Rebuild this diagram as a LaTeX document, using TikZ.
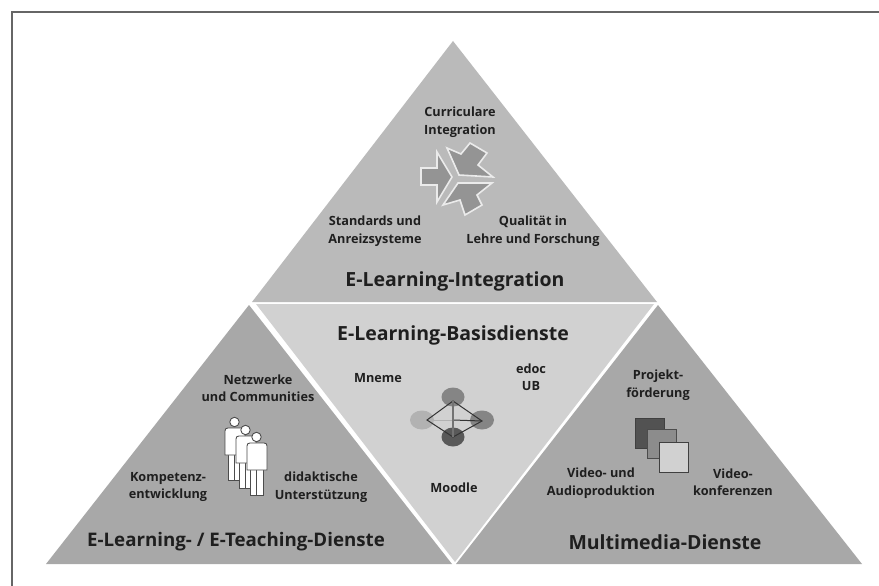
\documentclass[tikz,border=0pt]{standalone}
\usepackage{fontspec}
\setmainfont{Open Sans}
\begin{document}
\begin{tikzpicture}[x=1pt,y=-1pt,
  lbl/.style={font=\fontsize{12.7}{17.5}\selectfont\bfseries,align=center,text=black!88,inner sep=0pt},
  ttl/.style={font=\fontsize{19.5}{22}\selectfont\bfseries,text=black!88,inner sep=0pt},
  arrowshape/.style={draw=black!8,fill=black!42,line width=1.6pt,line join=miter},
  person/.style={fill=white,draw=black!70,line width=.9pt}]
\useasboundingbox (0,0) rectangle (879,586);
\fill[white] (0,0) rectangle (879,586);
\draw[black!60,line width=1.1pt] (879,12) -- (12,12) -- (12,586);
\fill[black!27] (453,41) -- (657,302) -- (252,302) -- cycle;
\fill[black!34] (249,305) -- (452,564) -- (46,564) -- cycle;
\fill[black!34] (658,305) -- (862,564) -- (456,564) -- cycle;
\fill[black!18] (256,304) -- (654,304) -- (455,562) -- cycle;
% arrows
\draw[arrowshape] (421,168) -- (437,168) -- (437,152) -- (452,177) -- (437,202) -- (437,185) -- (421,185) -- cycle;
\draw[arrowshape] (447,148) -- (461,154) -- (470,143) -- (487,153) -- (478,165) -- (493,177) -- (459,175) -- cycle;
\draw[arrowshape] (443,205) -- (460,200) -- (465,215) -- (482,205) -- (477,195) -- (492,183) -- (458,183) -- cycle;
% pyramid
\fill[black!30] (422,420) ellipse (12 and 9.5);
\fill[black!48] (453,397) ellipse (11.5 and 9.5);
\fill[black!48] (482,420) ellipse (12 and 9.5);
\fill[black!65] (453,437) ellipse (11.5 and 9.5);
\draw[black!30,line width=1pt] (427,420) -- (453,420);
\draw[black!80,line width=1pt] (453,420) -- (482,421);
\draw[black!80,line width=1pt] (427,420) -- (453,401) -- (482,421) -- (453,437) -- cycle;
\draw[black!55,line width=1.3pt] (453,401) -- (453,437);
% people
\foreach \dx/\dy in {0/0,11/8,22/15}{
\begin{scope}[shift={(\dx,\dy)}]
\draw[person] (228,450) rectangle (234.5,480);
\draw[person] (234.5,450) rectangle (241,480);
\draw[person] (225,455) -- (225,431) .. controls (225,429) and (226,428) .. (228,428) -- (242,428) .. controls (244,428) and (245,429) .. (245,431) -- (245,455) -- cycle;
\draw[person] (234.5,422) circle (4.7);
\end{scope}}
% squares
\draw[fill=black!68,draw=black!75,line width=.8pt] (635,418) rectangle (664,448);
\draw[fill=black!45,draw=black!70,line width=.8pt] (647,429) rectangle (676,458);
\draw[fill=black!18,draw=black!75,line width=.8pt] (659,442) rectangle (688,472);
% text
\node[lbl] (a1) at (460,122) {Curriculare\\Integration};
\node[lbl] (a2) at (375,231) {Standards und\\Anreizsysteme};
\node[lbl] (a3) at (533,231) {Qualität in\\Lehre und Forschung};
\node[ttl] (t1) at (455,281) {E-Learning-Integration};
\node[ttl] (t2) at (453,335) {E-Learning-Basisdienste};
\node[lbl] (b1) at (378,378) {Mneme};
\node[lbl] (b2) at (531,377) {edoc\\UB};
\node[lbl] (b3) at (454,488) {Moodle};
\node[lbl] (c1) at (258,388) {Netzwerke\\und Communities};
\node[lbl] (c2) at (168,487) {Kompetenz-\\entwicklung};
\node[lbl] (c3) at (321,487) {didaktische\\Unterstützung};
\node[ttl,font=\fontsize{18.7}{22}\selectfont\bfseries] (t3) at (236,542) {E-Learning- / E-Teaching-Dienste};
\node[lbl] (d1) at (658,385) {Projekt-\\förderung};
\node[lbl] (d2) at (601,483) {Video- und\\Audioproduktion};
\node[lbl] (d3) at (733,482) {Video-\\konferenzen};
\node[ttl] (t4) at (665,542) {Multimedia-Dienste};
\end{tikzpicture}
\end{document}
